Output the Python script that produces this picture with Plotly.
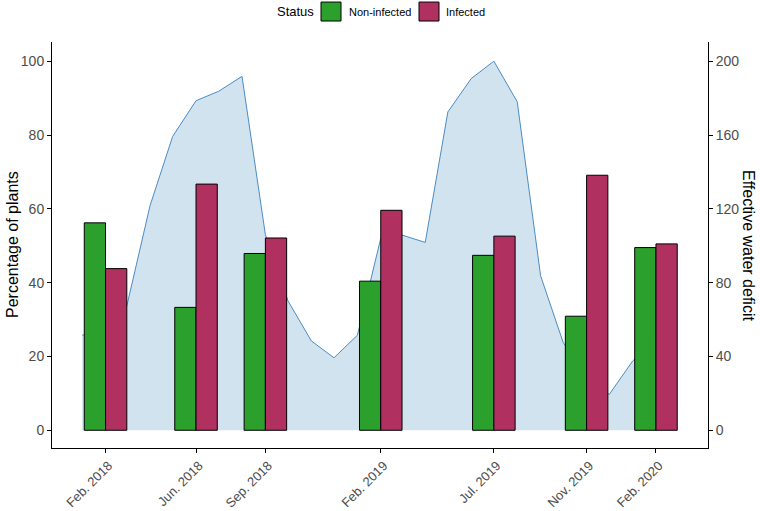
import plotly.graph_objects as go
import pandas as pd

# ---- data ----
sample_dates = ["2018-02-01", "2018-06-01", "2018-09-01", "2019-02-01",
                "2019-07-01", "2019-11-01", "2020-02-01"]
tick_labels = ["Feb. 2018", "Jun. 2018", "Sep. 2018", "Feb. 2019",
               "Jul. 2019", "Nov. 2019", "Feb. 2020"]
non_infected = [56.2, 33.3, 47.9, 40.4, 47.4, 30.9, 49.5]
infected = [43.8, 66.7, 52.1, 59.6, 52.6, 69.1, 50.5]

deficit_dates = pd.date_range("2018-01-01", "2020-02-01", freq="MS").strftime("%Y-%m-%d").tolist()
deficit = [51.5, 55, 67, 121.7, 159.2, 178.6, 183.7, 191.8, 106, 70.1, 48.4, 39.3,
           51.5, 104, 105.8, 101.8, 172.5, 190.6, 200, 178, 83.7, 47.5, 30, 19.4,
           37.5, 50]

series_names = ["Non-infected", "Infected"]
series_colors = ["#2ca02c", "#b03060"]

DAY_MS = 86400000
bar_w = 28.2 * DAY_MS

fig = go.Figure()

# area (effective water deficit) on primary axis (right side), drawn below bars
fig.add_trace(go.Scatter(
    x=deficit_dates, y=deficit, mode="lines", fill="tozeroy",
    line=dict(color="#4a8cc4", width=1), fillcolor="#d2e3f0",
    showlegend=False, yaxis="y", hoverinfo="x+y"))

# bars on overlaying axis (left side)
for name, vals, col, off in zip(series_names, [non_infected, infected], series_colors,
                                [-bar_w, 0]):
    fig.add_trace(go.Bar(
        x=sample_dates, y=vals, name=name, yaxis="y2",
        marker=dict(color=col, line=dict(color="black", width=1)),
        width=bar_w, offset=off, showlegend=False))

tick_font = dict(family="Liberation Sans, Arial", size=14, color="#4d4d4d")
xtick_font = dict(family="Liberation Sans, Arial", size=13, color="#4d4d4d")

fig.update_layout(
    width=760, height=511,
    margin=dict(l=52, r=52, t=42, b=63),
    paper_bgcolor="white", plot_bgcolor="white",
    barmode="overlay",
    font=dict(family="Liberation Sans, Arial", color="black"),
    xaxis=dict(
        type="date", range=["2017-11-22", "2020-04-10"],
        tickvals=sample_dates, ticktext=tick_labels, tickangle=-45,
        showline=True, linecolor="black", linewidth=1, mirror=False,
        ticks="outside", ticklen=4, tickcolor="black", showgrid=False,
        zeroline=False, tickfont=xtick_font, automargin=False,
        ticklabelshift=3),
    yaxis=dict(
        side="right", range=[-9.6, 210.4], tickvals=[0, 40, 80, 120, 160, 200],
        showline=True, linecolor="black", linewidth=1, ticks="outside",
        ticklen=4, tickcolor="black", showgrid=False, zeroline=False,
        tickfont=tick_font, automargin=False),
    yaxis2=dict(
        overlaying="y", side="left", range=[-4.8, 105.2],
        tickvals=[0, 20, 40, 60, 80, 100],
        showline=True, linecolor="black", linewidth=1, ticks="outside",
        ticklen=4, tickcolor="black", showgrid=False, zeroline=False,
        tickfont=tick_font, automargin=False),
    showlegend=False,
)

PW, PH = 656, 406.6

# axis titles
fig.add_annotation(text="Percentage of plants", xref="paper", yref="paper",
                   x=(12 - 52) / PW, y=0.5, textangle=-90, showarrow=False,
                   font=dict(size=16, color="black"), xanchor="center", yanchor="middle")
fig.add_annotation(text="Effective water deficit", xref="paper", yref="paper",
                   x=(749 - 52) / PW, y=0.5, textangle=90, showarrow=False,
                   font=dict(size=16, color="black"), xanchor="center", yanchor="middle")

# custom legend (top)
fig.add_annotation(text="Status", xref="paper", yref="paper",
                   x=(275 - 52) / PW, y=1 + (42 - 11.5) / PH, showarrow=False,
                   xanchor="left", yanchor="middle", font=dict(size=13, color="black"))
legend_items = [(321, 347), (419, 444)]
for (sx, tx), name, col in zip(legend_items, series_names, series_colors):
    fig.add_shape(type="rect", xref="paper", yref="paper",
                  x0=(sx - 52) / PW, x1=(sx + 20 - 52) / PW,
                  y0=1 + (42 - 21) / PH, y1=1 + (42 - 2) / PH,
                  fillcolor=col, line=dict(color="black", width=1))
    fig.add_annotation(text=name, xref="paper", yref="paper",
                       x=(tx - 52) / PW, y=1 + (42 - 11.5) / PH, showarrow=False,
                       xanchor="left", yanchor="middle", font=dict(size=11, color="black"))

fig.write_html("out.html")
